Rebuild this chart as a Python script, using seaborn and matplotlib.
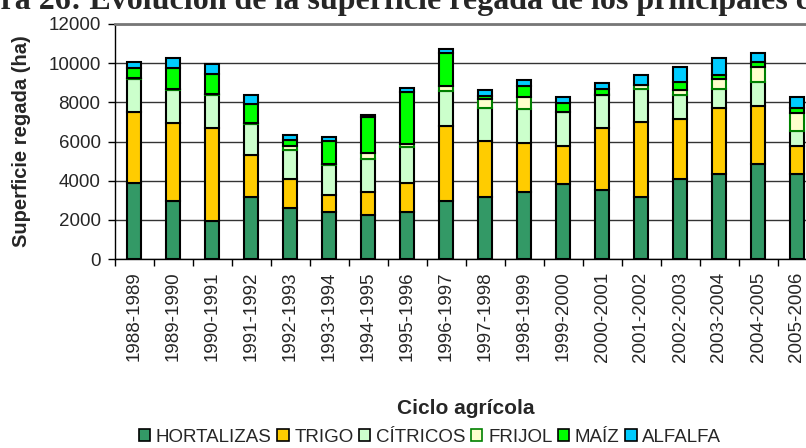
import numpy as np
import pandas as pd
import matplotlib
matplotlib.use("Agg")
import matplotlib.pyplot as plt
from matplotlib.patches import Patch
import seaborn as sns

# Data (ha)
ciclos = ['1988-1989', '1989-1990', '1990-1991', '1991-1992', '1992-1993', '1993-1994',
          '1994-1995', '1995-1996', '1996-1997', '1997-1998', '1998-1999', '1999-2000',
          '2000-2001', '2001-2002', '2002-2003', '2003-2004', '2004-2005', '2005-2006']
hortalizas = [3890, 2960, 1940, 3160, 2600, 2400, 2230, 2400, 2960, 3160, 3440, 3830, 3520, 3160, 4100, 4350, 4830, 4350]
trigo = [3640, 4010, 4760, 2130, 1480, 870, 1210, 1490, 3830, 2880, 2480, 1940, 3180, 3830, 3060, 3350, 2980, 1420]
citricos = [1670, 1670, 1680, 1610, 1500, 1530, 1660, 1810, 1780, 1680, 1730, 1730, 1670, 1670, 1220, 960, 1220, 780]
frijol = [20, 20, 60, 50, 190, 30, 290, 150, 240, 440, 620, 20, 30, 200, 240, 540, 750, 900]
maiz = [540, 1070, 1030, 960, 300, 1210, 1850, 2690, 1720, 160, 540, 460, 260, 30, 410, 220, 270, 250]
alfalfa = [310, 530, 500, 470, 260, 180, 110, 200, 170, 320, 310, 300, 350, 500, 750, 820, 480, 580]

cultivos = ['HORTALIZAS', 'TRIGO', 'CÍTRICOS', 'FRIJOL', 'MAÍZ', 'ALFALFA']
series = [hortalizas, trigo, citricos, frijol, maiz, alfalfa]
colores = ['#339966', '#FFCC00', '#CCFFCC', '#FFFFCC', '#00FF00', '#00CCFF']
bordes = ['black', 'black', 'black', '#008000', 'black', 'black']

sns.set_style("white")
plt.rcParams['font.family'] = ['Liberation Sans', 'DejaVu Sans']

fig = plt.figure(figsize=(8.06, 4.48), dpi=100)
ax = fig.add_axes([114.5 / 806, 189 / 448, 702 / 806, 235 / 448])

df = pd.DataFrame({'ciclo': ciclos})
bottom = np.zeros(len(ciclos))
for nombre, vals, col, edge in zip(cultivos, series, colores, bordes):
    df[nombre] = vals
    sns.barplot(data=df, x='ciclo', y=nombre, bottom=bottom, color=col,
                edgecolor=edge, linewidth=1.5, width=0.36, errorbar=None,
                saturation=1, ax=ax, zorder=3)
    bottom = bottom + np.array(vals)

ax.set_ylim(0, 12000)
ax.set_xlim(-0.5, len(ciclos) - 0.5)
ax.set_yticks(np.arange(0, 12001, 2000))
ax.yaxis.grid(True, color='#333333', linewidth=1, zorder=0)
ax.set_axisbelow(True)

# major ticks between categories, labels on minor ticks at centres
ax.set_xticks(np.arange(-0.5, len(ciclos), 1))
ax.set_xticklabels([])
ax.set_xticks(np.arange(len(ciclos)), minor=True)
ax.set_xticklabels(ciclos, minor=True, rotation=90, fontsize=13.5)
ax.tick_params(axis='x', which='major', direction='out', length=5, width=1, color='black', bottom=True)
ax.tick_params(axis='x', which='minor', length=0, pad=9)
ax.tick_params(axis='y', direction='out', length=5, width=1, color='black', left=True,
               labelsize=13.5, pad=5)

for s in ['left', 'bottom']:
    ax.spines[s].set_color('black')
    ax.spines[s].set_linewidth(1)
ax.spines['top'].set_color('#777777')
ax.spines['top'].set_linewidth(2)
ax.spines['right'].set_visible(False)
ax.set_xlabel('')
ax.set_ylabel('')

fig.text(22 / 806, (448 - 141) / 448, 'Superficie regada (ha)', rotation=90,
         fontsize=14.5, fontweight='bold', ha='center', va='center')
fig.text(466 / 806, (448 - 408) / 448, 'Ciclo agrícola', fontsize=15,
         fontweight='bold', ha='center', va='center')
fig.text(-62 / 806, (448 - 9) / 448,
         'Figura 26: Evolución de la superficie regada de los principales cultivos',
         fontfamily='Liberation Serif', fontweight='bold', fontsize=23,
         ha='left', va='baseline')

handles = [Patch(facecolor=c, edgecolor=e, linewidth=1.2) for c, e in zip(colores, bordes)]
fig.legend(handles, cultivos, loc='center left', bbox_to_anchor=(139 / 806, 11 / 448),
           ncol=6, frameon=False, fontsize=13.5, handlelength=0.6, handleheight=0.6,
           handletextpad=0.3, columnspacing=0.3, borderpad=0, borderaxespad=0)

fig.savefig('out.png', dpi=100)
